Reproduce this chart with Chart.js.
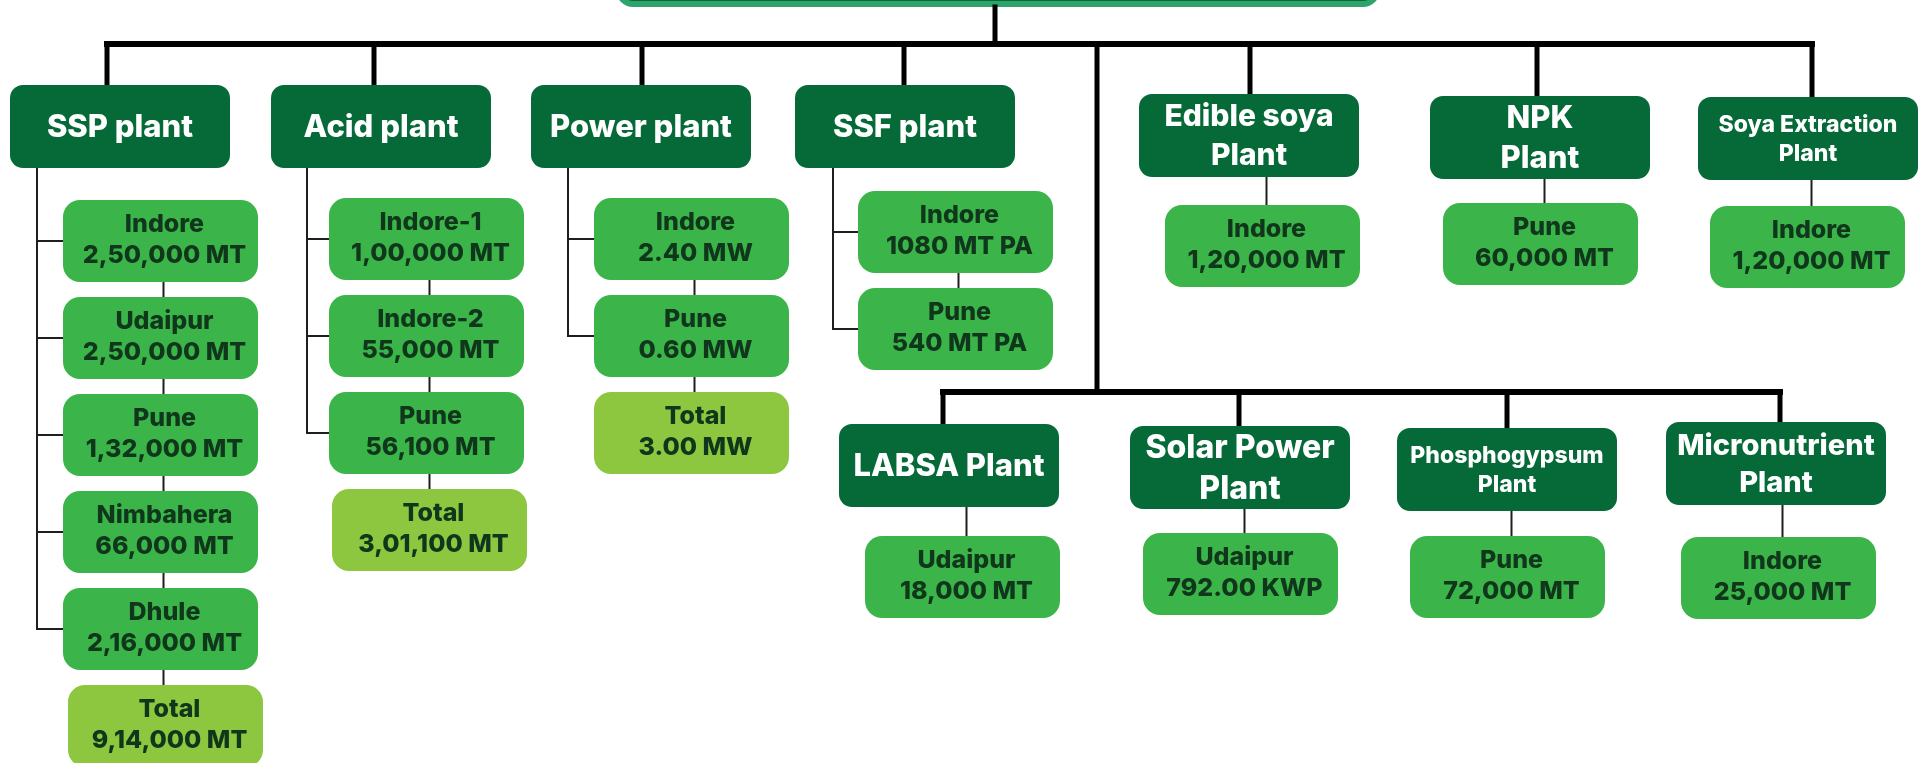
<!DOCTYPE html>
<html>
<head>
<meta charset="utf-8">
<script src="https://cdn.jsdelivr.net/npm/chart.js@4.4.1/dist/chart.umd.min.js"></script>
<style>
  html, body { margin: 0; padding: 0; background: #fff; }
  #wrap { width: 1925px; height: 763px; position: relative; }
</style>
</head>
<body>
<div id="wrap"><canvas id="orgChart"></canvas></div>
<script>
// --- data ---
// plant names (the \n is the line break inside the box)
const plantNames = ['SSP plant', 'Acid plant', 'Power plant', 'SSF plant',
  'Edible soya\nPlant', 'NPK\nPlant', 'Soya Extraction\nPlant',
  'LABSA Plant', 'Solar Power\nPlant', 'Phosphogypsum\nPlant', 'Micronutrient\nPlant'];

const plantSites = [
  ['Indore', 'Udaipur', 'Pune', 'Nimbahera', 'Dhule'],
  ['Indore-1', 'Indore-2', 'Pune'],
  ['Indore', 'Pune'],
  ['Indore', 'Pune'],
  ['Indore'], ['Pune'], ['Indore'],
  ['Udaipur'], ['Udaipur'], ['Pune'], ['Indore']
];

const plantCapacity = [
  [250000, 250000, 132000, 66000, 216000],
  [100000, 55000, 56100],
  [2.40, 0.60],
  [1080, 540],
  [120000], [60000], [120000],
  [18000], [792.00], [72000], [25000]
];

const plantUnits = ['MT', 'MT', 'MW', 'MT PA', 'MT', 'MT', 'MT', 'MT', 'KWP', 'MT', 'MT'];

// totals as printed (null = no total box)
const plantTotals = [914000, 301100, 3.00, null, null, null, null, null, null, null, null];

// --- layout (positions / sizes / styles), kept apart from the data ---
const layout = {
  rootLeft: 619, rootRight: 1377, rootBottom: 4, rootDropX: 995,
  busY: 44, bus2Y: 392, trunkX: 1097,
  plantLeft: [10, 271, 531, 795, 1139, 1430, 1698, 839, 1130, 1397, 1666],
  plantTop:  [85, 85, 85, 85, 94, 96, 97, 424, 426, 428, 422],
  plantW: 220, plantH: 83,
  dropX: [107, 374, 642, 904, 1250, 1537, 1812, 943, 1239, 1507, 1780],
  childLeft: [63, 329, 594, 858, 1165, 1443, 1710, 865, 1143, 1410, 1681],
  childTop:  [200, 198, 198, 191, 205, 203, 206, 536, 533, 536, 537],
  totalShift: [5, 3, 0],
  childW: 195, childH: 82, childStep: 97,
  bracketX: [37, 307, 568, 833],
  plantFont: [31, 31, 31, 31, 30, 31, 23, 31, 32, 23, 29],
  childFont: 25
};

const colors = {
  root: '#2ea36c',
  plant: '#066a38',
  site: '#3bb54a',
  total: '#8dc63f',
  siteText: '#10361b',
  bus: '#000000',
  thin: '#1e1e1e'
};

const FONT = 'Inter, "Open Sans", sans-serif';

// number formatting as in the picture
function indian(n) {
  const s = String(Math.round(n));
  if (s.length <= 3) return s;
  const last3 = s.slice(-3);
  const rest = s.slice(0, -3).replace(/\B(?=(\d{2})+(?!\d))/g, ',');
  return rest + ',' + last3;
}
function fmt(v, unit) {
  if (unit === 'MT') return indian(v) + ' MT';
  if (unit === 'MT PA') return String(v) + ' MT PA';
  return v.toFixed(2) + ' ' + unit;
}

// box centres for the chart datasets
const plantPoints = plantNames.map((n, i) => ({
  x: layout.plantLeft[i] + layout.plantW / 2,
  y: layout.plantTop[i] + layout.plantH / 2
}));
const sitePoints = [];
plantSites.forEach((sites, i) => {
  const rows = sites.length + (plantTotals[i] !== null ? 1 : 0);
  for (let k = 0; k < rows; k++) {
    const isTotal = k >= sites.length;
    sitePoints.push({
      x: layout.childLeft[i] + layout.childW / 2 + (isTotal ? layout.totalShift[i] : 0),
      y: layout.childTop[i] + k * layout.childStep + layout.childH / 2,
      plant: i, row: k, isTotal: isTotal,
      name: isTotal ? 'Total' : sites[k],
      value: fmt(isTotal ? plantTotals[i] : plantCapacity[i][k], plantUnits[i])
    });
  }
});

function rrect(ctx, x, y, w, h, r) {
  ctx.beginPath();
  ctx.moveTo(x + r, y);
  ctx.arcTo(x + w, y, x + w, y + h, r);
  ctx.arcTo(x + w, y + h, x, y + h, r);
  ctx.arcTo(x, y + h, x, y, r);
  ctx.arcTo(x, y, x + w, y, r);
  ctx.closePath();
}

const orgPlugin = {
  id: 'orgPlugin',
  afterDatasetsDraw(chart) {
    const ctx = chart.ctx;
    const sx = chart.scales.x, sy = chart.scales.y;
    const px = v => sx.getPixelForValue(v);
    const py = v => sy.getPixelForValue(v);
    ctx.save();

    function line(x1, y1, x2, y2, w, c) {
      ctx.beginPath();
      ctx.lineWidth = w;
      ctx.strokeStyle = c;
      ctx.lineCap = 'square';
      ctx.moveTo(px(x1), py(y1));
      ctx.lineTo(px(x2), py(y2));
      ctx.stroke();
    }

    // root box (only its bottom edge shows)
    rrect(ctx, px(layout.rootLeft), py(-60), px(layout.rootRight) - px(layout.rootLeft), py(layout.rootBottom) - py(-60), 14);
    ctx.fillStyle = colors.plant;
    ctx.fill();
    ctx.lineWidth = 6;
    ctx.strokeStyle = colors.root;
    ctx.stroke();

    // thick connectors
    line(layout.rootDropX, layout.rootBottom + 3, layout.rootDropX, layout.busY, 5, colors.bus);
    line(layout.dropX[0], layout.busY, layout.dropX[6], layout.busY, 6, colors.bus);
    line(layout.trunkX, layout.busY, layout.trunkX, layout.bus2Y, 5, colors.bus);
    line(layout.dropX[7], layout.bus2Y, layout.dropX[10], layout.bus2Y, 6, colors.bus);
    plantNames.forEach((n, i) => {
      const by = i < 7 ? layout.busY : layout.bus2Y;
      line(layout.dropX[i], by, layout.dropX[i], layout.plantTop[i] + 2, 5, colors.bus);
    });

    // thin connectors to the sites
    plantSites.forEach((sites, i) => {
      const pts = sitePoints.filter(p => p.plant === i);
      const cx = layout.childLeft[i] + layout.childW / 2;
      const plantBottom = layout.plantTop[i] + layout.plantH;
      if (sites.length > 1) {
        const bx = layout.bracketX[i];
        const lastSite = pts[sites.length - 1];
        line(bx, plantBottom, bx, lastSite.y, 2, colors.thin);
        pts.slice(0, sites.length).forEach(p => {
          line(bx, p.y, layout.childLeft[i] + 4, p.y, 2, colors.thin);
        });
        line(cx + 3, pts[0].y, cx + 3, pts[pts.length - 1].y, 2, colors.thin);
      } else {
        line(cx + 4, plantBottom, cx + 4, pts[0].y, 2, colors.thin);
      }
    });

    // plant boxes
    ctx.textAlign = 'center';
    ctx.textBaseline = 'middle';
    plantNames.forEach((name, i) => {
      const x0 = px(layout.plantLeft[i]), y0 = py(layout.plantTop[i]);
      const w = px(layout.plantLeft[i] + layout.plantW) - x0;
      const h = py(layout.plantTop[i] + layout.plantH) - y0;
      rrect(ctx, x0, y0, w, h, 13);
      ctx.fillStyle = colors.plant;
      ctx.fill();
      const fs = layout.plantFont[i];
      ctx.font = '800 ' + fs + 'px ' + FONT;
      ctx.fillStyle = '#ffffff';
      const lines = name.split('\n');
      const lh = fs * 1.28;
      const cy = y0 + h / 2 - (lines.length - 1) * lh / 2;
      lines.forEach((t, k) => ctx.fillText(t, x0 + w / 2, cy + k * lh + 1));
    });

    // site and total boxes
    sitePoints.forEach(p => {
      const x0 = px(p.x - layout.childW / 2), y0 = py(p.y - layout.childH / 2);
      const w = px(p.x + layout.childW / 2) - x0;
      const h = py(p.y + layout.childH / 2) - y0;
      rrect(ctx, x0, y0, w, h, 17);
      ctx.fillStyle = p.isTotal ? colors.total : colors.site;
      ctx.fill();
      ctx.font = '800 ' + layout.childFont + 'px ' + FONT;
      ctx.fillStyle = colors.siteText;
      const lh = 31;
      ctx.fillText(p.name, x0 + w / 2 + 4, y0 + h / 2 - lh / 2 - 1);
      ctx.fillText(p.value, x0 + w / 2 + 4, y0 + h / 2 + lh / 2 - 1);
    });

    ctx.restore();
  }
};

new Chart(document.getElementById('orgChart'), {
  type: 'scatter',
  data: {
    datasets: [
      { label: 'Plants', data: plantPoints, pointRadius: 0, pointHoverRadius: 0 },
      { label: 'Sites', data: sitePoints, pointRadius: 0, pointHoverRadius: 0 }
    ]
  },
  options: {
    responsive: true,
    maintainAspectRatio: false,
    animation: false,
    layout: { padding: 0 },
    events: [],
    plugins: { legend: { display: false }, tooltip: { enabled: false } },
    scales: {
      x: { type: 'linear', min: 0, max: 1925, display: false },
      y: { type: 'linear', min: 0, max: 763, reverse: true, display: false }
    }
  },
  plugins: [orgPlugin]
});
</script>
</body>
</html>
